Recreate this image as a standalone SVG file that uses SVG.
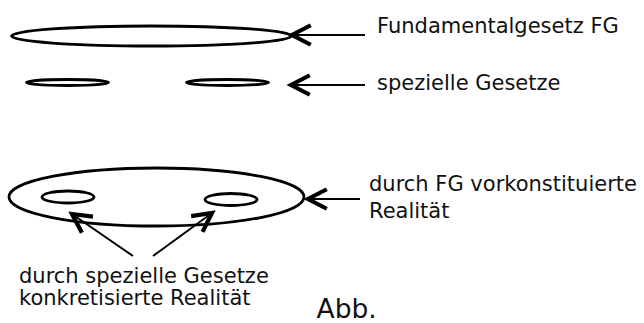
<svg xmlns="http://www.w3.org/2000/svg" width="644" height="323" viewBox="0 0 644 323">
<style>
.shape{fill:none;stroke:#000;stroke-width:2.8}
.conn{fill:none;stroke:#000;stroke-width:2}
.lbl{font-family:"DejaVu Sans",Verdana,sans-serif;font-size:21px;fill:#111}
</style>
<defs>
<marker id="arr" markerUnits="userSpaceOnUse" orient="auto" refX="0" refY="0" markerWidth="30" markerHeight="30" viewBox="-16 -10 20 20" overflow="visible">
<path d="M-12.5,-6.5 L0,0 L-12.5,6.5" fill="none" stroke="#000" stroke-width="2.8" stroke-linejoin="miter"/>
</marker>
</defs>
<g id="fg">
<ellipse class="shape" cx="151.5" cy="36" rx="140" ry="10"/>
</g>
<g id="gesetz1">
<ellipse class="shape" cx="67.5" cy="82.5" rx="41" ry="3"/>
</g>
<g id="gesetz2">
<ellipse class="shape" cx="227.5" cy="82.5" rx="41" ry="3"/>
</g>
<g id="realitaet">
<ellipse class="shape" cx="156.5" cy="197" rx="147.5" ry="29"/>
</g>
<g id="konkret1">
<ellipse class="shape" cx="68" cy="197" rx="26" ry="6"/>
</g>
<g id="konkret2">
<ellipse class="shape" cx="231" cy="199.5" rx="26" ry="6"/>
</g>
<g id="connectors">
<line class="conn" x1="365" y1="35" x2="292" y2="35" marker-end="url(#arr)"/>
<line class="conn" x1="365" y1="85" x2="291" y2="85" marker-end="url(#arr)"/>
<line class="conn" x1="360" y1="199" x2="308" y2="199" marker-end="url(#arr)"/>
<line class="conn" x1="133" y1="256" x2="72" y2="214" marker-end="url(#arr)"/>
<line class="conn" x1="153" y1="256" x2="212" y2="213" marker-end="url(#arr)"/>
</g>
<g id="labels">
<text class="lbl" x="377" y="32.5">Fundamentalgesetz FG</text>
<text class="lbl" x="377" y="90">spezielle Gesetze</text>
<text class="lbl" x="369" y="190.5">durch FG vorkonstituierte</text>
<text class="lbl" x="369" y="217.5">Realität</text>
<text class="lbl" x="19" y="282.5">durch spezielle Gesetze</text>
<text class="lbl" x="19" y="305">konkretisierte Realität</text>
<text class="lbl" x="316.5" y="317.5" style="font-size:26.5px">Abb.</text>
</g>
</svg>
